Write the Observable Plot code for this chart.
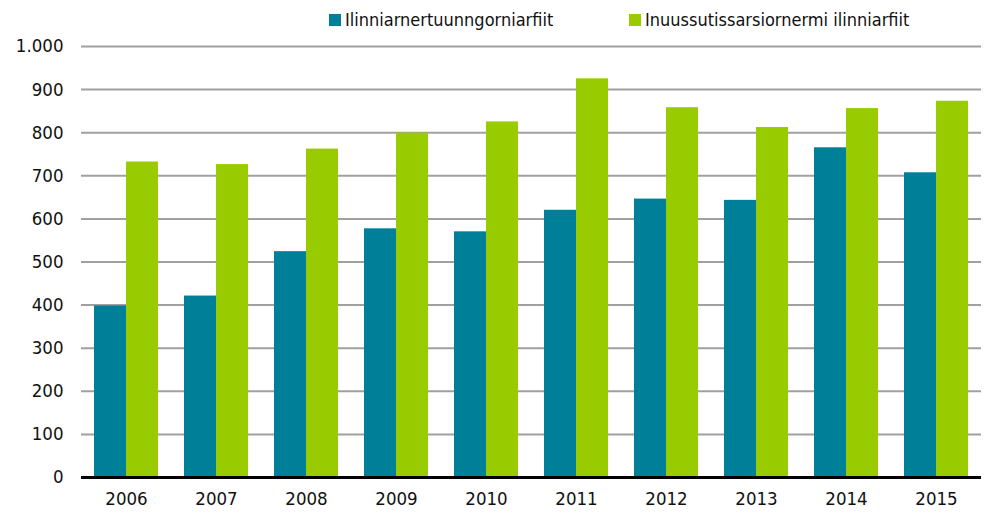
<!DOCTYPE html>
<html>
<head>
<meta charset="utf-8">
<script src="https://cdn.jsdelivr.net/npm/d3@7"></script>
<script src="https://cdn.jsdelivr.net/npm/@observablehq/plot@0.6"></script>
<style>
  html, body { margin: 0; padding: 0; background: #fff; }
  body { width: 989px; height: 516px; overflow: hidden; font-family: "DejaVu Sans Condensed", "Liberation Sans Narrow", sans-serif; }
  #legend { position: relative; height: 30px; font-size: 18px; color: #111; }
  .item { position: absolute; top: 9px; display: flex; align-items: center; white-space: nowrap; }
  .sw { width: 12px; height: 12px; margin-right: 4px; display: inline-block; }
  #chart svg { overflow: visible; }
</style>
</head>
<body>
<div id="legend"></div>
<div id="chart"></div>
<script>
const years = ["2006","2007","2008","2009","2010","2011","2012","2013","2014","2015"];
const seriesNames = ["Ilinniarnertuunngorniarfiit", "Inuussutissarsiornermi ilinniarfiit"];
const seriesColors = ["#007f99", "#99cc00"];
const tealValues = [398, 421, 524, 577, 570, 620, 646, 643, 765, 707];
const greenValues = [732, 726, 762, 799, 825, 925, 858, 812, 856, 873];
const yTicks = [0, 100, 200, 300, 400, 500, 600, 700, 800, 900, 1000];

const data = [];
years.forEach((y, i) => {
  data.push({year: y, series: seriesNames[0], value: tealValues[i]});
  data.push({year: y, series: seriesNames[1], value: greenValues[i]});
});

// Legend
const legend = document.getElementById("legend");
const legendX = [329, 629];
seriesNames.forEach((name, i) => {
  const it = document.createElement("div");
  it.className = "item";
  it.style.left = legendX[i] + "px";
  it.innerHTML = `<span class="sw" style="background:${seriesColors[i]}"></span><span>${name}</span>`;
  legend.appendChild(it);
});

const fmt = d => d3.format(",")(d).replace(/,/g, ".");

const chart = Plot.plot({
  width: 989,
  height: 486,
  marginTop: 16,
  marginBottom: 39,
  marginLeft: 80,
  marginRight: 7,
  style: {fontFamily: '"DejaVu Sans Condensed", "Liberation Sans Narrow", sans-serif', fontSize: "18.5px", color: "#111", background: "#fff"},
  fx: {domain: years, padding: 0, label: null, tickSize: 0, tickPadding: 14, axis: "bottom"},
  x: {domain: seriesNames, paddingInner: 0, paddingOuter: 0.364, axis: null},
  y: {domain: [0, 1000], ticks: yTicks, tickFormat: fmt, tickSize: 0, tickPadding: 18, label: null},
  color: {domain: seriesNames, range: seriesColors},
  marks: [
    Plot.ruleY(yTicks.filter(d => d > 0), {stroke: "#a0a0a0", strokeWidth: 2}),
    Plot.barY(data, {fx: "year", x: "series", y: "value", fill: "series"}),
    Plot.ruleY([0], {stroke: "#000", strokeWidth: 3})
  ]
});
document.getElementById("chart").appendChild(chart);
</script>
</body>
</html>
